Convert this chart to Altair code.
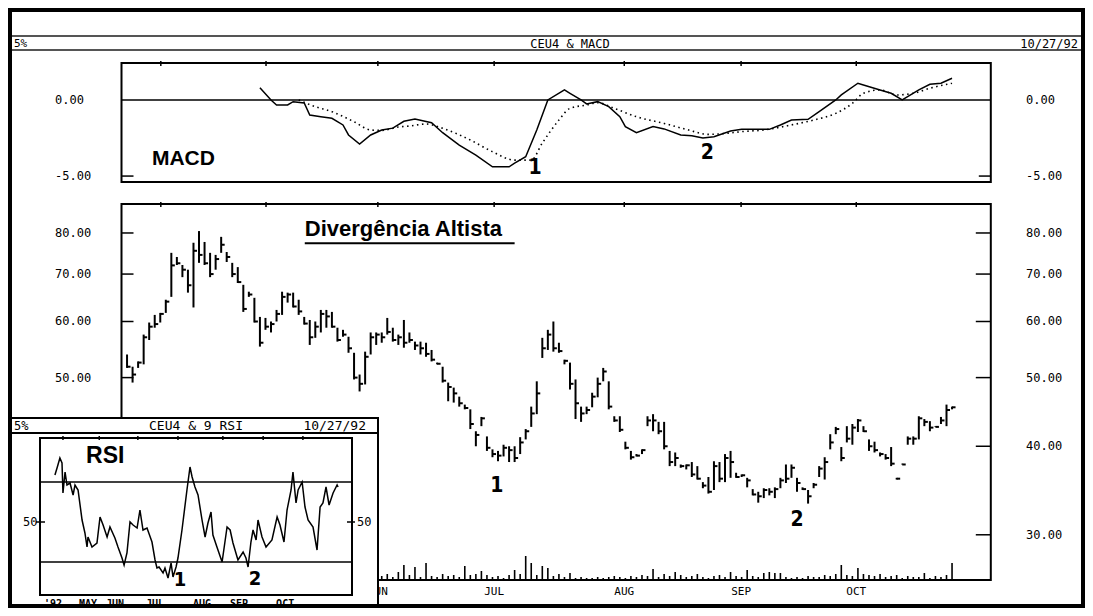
import altair as alt
import pandas as pd

# ---------------- data ----------------
high = [53.9, 51.8, 52.7, 57.5, 59.8, 61.3, 61.7, 64.4, 75.0, 74.0,
        72.1, 71.0, 77.5, 80.5, 77.7, 75.0, 74.5, 79.0, 75.2, 72.6,
        71.6, 67.6, 66.1, 64.8, 60.9, 60.7, 60.0, 62.3, 66.1, 65.9,
        65.9, 64.4, 60.9, 60.3, 60.0, 62.3, 62.3, 61.9, 58.8, 58.4,
        57.1, 54.2, 50.5, 54.4, 57.9, 57.9, 57.9, 60.7, 58.8, 57.5,
        60.3, 57.9, 56.2, 56.2, 56.0, 54.7, 52.5, 51.8, 49.2, 48.4,
        47.0, 45.8, 45.1, 42.0, 44.0, 41.3, 39.6, 39.4, 40.2, 40.0,
        40.0, 41.2, 42.3, 45.5, 49.4, 56.9, 58.4, 60.0, 56.0, 53.0,
        52.5, 49.7, 45.5, 45.5, 47.6, 50.0, 51.6, 49.4, 44.1, 44.1,
        40.6, 39.4, 39.0, 39.6, 44.1, 44.4, 43.3, 43.3, 39.4, 39.2,
        37.7, 37.7, 38.0, 37.5, 35.6, 36.2, 38.1, 38.0, 39.0, 39.4,
        36.7, 36.5, 36.1, 34.8, 34.5, 34.9, 34.9, 35.0, 36.1, 37.7,
        37.7, 36.1, 35.0, 34.7, 35.5, 37.5, 38.6, 41.6, 42.6, 39.9,
        42.7, 43.0, 43.7, 42.7, 40.9, 40.6, 39.2, 39.0, 39.9, 36.1,
        37.8, 41.3, 41.3, 44.1, 43.7, 43.4, 42.7, 44.0, 45.8, 45.5]
low = [51.6, 49.2, 51.6, 52.2, 56.5, 58.8, 59.8, 61.7, 65.0, 72.1,
       69.3, 65.9, 62.8, 72.6, 72.1, 69.3, 71.0, 75.0, 72.8, 69.3,
       68.0, 61.9, 65.0, 59.8, 55.3, 58.4, 57.9, 60.0, 61.3, 63.8,
       62.8, 61.3, 59.4, 55.6, 56.9, 57.9, 58.8, 58.8, 56.2, 57.1,
       54.2, 49.7, 47.8, 48.9, 53.9, 55.6, 56.0, 57.5, 56.2, 55.6,
       55.1, 56.0, 54.7, 53.9, 53.5, 52.7, 52.2, 49.2, 46.3, 46.1,
       45.5, 45.1, 42.3, 40.0, 42.7, 39.4, 38.6, 38.1, 38.7, 38.0,
       38.0, 39.0, 40.9, 42.6, 44.4, 53.3, 54.7, 54.4, 54.2, 52.2,
       48.1, 43.7, 43.3, 44.4, 45.4, 46.9, 49.4, 45.1, 43.3, 41.9,
       39.6, 38.3, 38.7, 39.0, 42.7, 42.0, 41.6, 39.6, 37.5, 37.5,
       37.3, 37.1, 36.2, 35.9, 34.9, 34.3, 34.7, 35.6, 35.6, 36.1,
       36.1, 36.2, 35.0, 34.1, 33.3, 33.8, 34.1, 33.8, 34.9, 35.5,
       36.1, 34.5, 34.7, 33.2, 34.9, 36.2, 35.9, 39.6, 41.6, 38.1,
       40.5, 40.2, 41.9, 41.9, 39.4, 39.2, 38.7, 38.3, 37.5, 35.9,
       37.7, 40.2, 40.2, 40.9, 42.7, 42.0, 42.6, 43.0, 42.7, 45.1]
close = [51.8, 50.5, 52.5, 57.0, 59.0, 59.5, 61.5, 64.0, 72.0, 72.5,
         71.0, 67.5, 75.5, 74.5, 72.5, 70.0, 73.5, 77.0, 74.0, 70.0,
         68.2, 62.5, 65.5, 60.0, 56.0, 59.0, 59.5, 61.5, 65.0, 65.5,
         63.0, 62.0, 59.6, 57.0, 59.0, 61.5, 61.0, 59.0, 56.5, 57.5,
         55.0, 50.0, 49.0, 53.5, 57.0, 57.5, 57.0, 58.0, 56.5, 57.0,
         56.0, 56.5, 55.5, 55.0, 54.0, 53.0, 52.3, 49.5, 48.5, 47.5,
         46.0, 45.3, 43.0, 41.5, 43.8, 39.8, 39.0, 38.8, 39.8, 39.5,
         38.5, 40.5, 42.0, 44.5, 47.5, 55.0, 57.5, 55.0, 54.5, 52.8,
         49.0, 46.0, 44.5, 45.0, 47.0, 49.0, 51.0, 45.5, 43.5, 42.2,
         39.8, 38.6, 38.8, 39.5, 43.5, 43.5, 42.0, 40.0, 38.0, 38.5,
         37.5, 37.6, 36.5, 36.0, 35.2, 34.5, 37.5, 36.0, 38.5, 38.0,
         36.2, 36.4, 35.8, 34.2, 34.0, 34.7, 34.5, 34.8, 35.8, 36.0,
         37.3, 35.5, 34.8, 34.0, 35.3, 37.2, 38.0, 40.5, 42.3, 38.5,
         41.0, 42.5, 43.5, 42.0, 40.0, 39.5, 39.0, 38.5, 37.8, 36.0,
         37.7, 41.0, 41.0, 43.8, 43.3, 42.5, 42.6, 43.5, 45.0, 45.4]
volume = [8, 6, 10, 5, 7, 12, 6, 9, 14, 8, 6, 11, 15, 9, 7, 10, 6, 8, 12, 7,
          9, 5, 11, 8, 6, 10, 7, 5, 9, 6, 8, 12, 7, 6, 5, 9, 11, 6, 8, 7,
          10, 13, 9, 6, 8, 5,
          4, 6, 3, 8, 15, 5, 13, 3, 17, 4, 3, 6, 4, 5,
          3, 14, 5, 6, 9, 5, 3, 4, 2, 5, 10, 6, 24, 17, 5,
          14, 12, 4, 6, 3, 7, 2, 3, 2, 2, 3, 2, 3, 4, 3,
          2, 4, 3, 5, 4, 11, 3, 6, 4, 8, 5, 3, 4, 6, 3,
          2, 4, 5, 3, 8, 4, 3, 10, 4, 3, 7, 8, 7, 7, 3,
          2, 3, 2, 4, 3, 3, 5, 4, 6, 15, 5, 4, 12, 6, 5,
          4, 6, 3, 4, 5, 2, 4, 3, 3, 7, 2, 4, 3, 5, 17]

macd_idx = [25, 27, 28, 30, 31, 33, 34, 36, 38, 40, 41, 43, 45, 47, 49, 51, 53, 56, 58, 61,
            64, 67, 70, 71, 73, 75, 77, 80, 81, 83, 84, 86, 88, 90, 91, 93, 96, 98, 101, 103,
            105, 107, 110, 112, 117, 119, 121, 124, 126, 129, 130, 133, 134, 137, 139, 141, 144, 146, 148, 150]
macd_val = [0.81, 0.0, -0.33, -0.33, -0.11, -0.2, -0.99, -1.1, -1.2, -1.64, -2.3, -2.9, -2.3, -1.97, -1.85, -1.4, -1.25, -1.49, -2.15, -2.96,
            -3.62, -4.39, -4.39, -4.15, -3.73, -1.97, 0.0, 0.66, 0.44, 0.0, -0.26, -0.11, -0.44, -1.1, -1.75, -2.15, -1.75, -1.9, -2.3, -2.35,
            -2.5, -2.41, -2.04, -1.93, -1.93, -1.64, -1.32, -1.27, -0.77, 0.0, 0.33, 1.1, 0.99, 0.66, 0.44, 0.0, 0.66, 1.03, 1.1, 1.43]
signal_idx = [32, 35, 38, 42, 45, 47, 50, 52, 55, 58, 63, 67, 71, 74, 76, 79, 81, 84, 86, 89,
              93, 98, 102, 106, 109, 112, 116, 121, 125, 129, 132, 134, 137, 140, 143, 146, 150]
signal_val = [0.0, -0.44, -0.77, -1.43, -1.97, -2.0, -1.78, -1.71, -1.58, -1.86, -2.63, -3.4, -3.95, -3.95, -2.83, -1.32, -0.55, -0.33, -0.18, -0.55,
              -1.1, -1.54, -1.93, -2.26, -2.2, -2.08, -1.97, -1.64, -1.32, -0.88, -0.22, 0.44, 0.66, 0.33, 0.44, 0.77, 1.1]

rsi_idx = [2.9, 4.0, 5.5, 6.6, 7.1, 8.2, 9.2, 10.8, 12.4, 13.4,
           15.0, 17.1, 18.6, 19.7, 20.2, 22.3, 24.9, 26.5, 28.1, 30.2,
           31.7, 34.3, 35.9, 38.0, 39.1, 40.6, 42.2, 43.8, 45.9, 47.4,
           49.0, 51.1, 53.7, 55.3, 56.3, 57.4, 59.5, 60.5, 62.1, 63.7,
           64.7, 66.3, 67.3, 69.4, 72.0, 73.6, 74.7, 76.2, 77.8, 79.9,
           81.5, 83.0, 84.6, 85.6, 87.7, 90.4, 93.0, 94.6, 96.1, 98.7,
           101.4, 102.9, 104.0, 105.5, 106.6, 108.2, 109.2, 111.3, 113.4, 116.5,
           119.2, 120.7, 122.8, 124.4, 126.5, 127.5, 129.1, 130.2, 132.3, 133.8,
           135.4, 138.0, 140.1, 141.7, 143.2, 144.8, 146.4, 148.5, 150.6, 151.1]
rsi_val = [73.5, 77, 82, 79.5, 64.5, 75, 68.5, 69.5, 63.5, 68.5,
           66, 51, 44.5, 37.5, 42.5, 37.5, 39.5, 52.5, 48.5, 42.5,
           47.5, 42, 37.5, 32, 28.5, 34.5, 50, 48.5, 47, 56,
           46, 47, 40, 31, 27, 27.5, 24.5, 27, 22, 29.5,
           22.5, 27.5, 32, 46, 66, 77.5, 72.5, 67.5, 63.5, 51,
           42.5, 49.5, 55, 43.5, 37.5, 30, 47.5, 46, 39.5, 31,
           35, 32, 27.5, 40, 46, 41, 51, 42.5, 37.5, 41,
           52.5, 48.5, 40, 56, 66, 75, 59.5, 66, 70, 57.5,
           51, 47.5, 36, 57.5, 59.5, 67.5, 58.5, 64.5, 68.5, 67.5]

month_idx = [7.1, 26.1, 46.3, 67.3, 90.8, 111.9, 132.7]
month_labels = ["APR", "MAY", "JUN", "JUL", "AUG", "SEP", "OCT"]
rsi_month_idx = [1.9, 20.2, 34.3, 55.3, 79.9, 99.3, 123.4]
rsi_month_labels = ["'92", "MAY", "JUN", "JUL", "AUG", "SEP", "OCT"]
price_ticks = [30, 40, 50, 60, 70, 80]
price_tick_labels = ["30.00", "40.00", "50.00", "60.00", "70.00", "80.00"]
macd_ticks = [0, -5]
macd_tick_labels = ["0.00", "-5.00"]
rsi_levels = [30, 70]
rsi_label_vals = [50]
rsi_label_text = ["50"]

# ---------------- layout (scale domains / pixel ranges) ----------------
W, H = 1077, 600
XD, XR = [0, 157], [113.5, 982.8]
MD, MR = [-5.39, 2.43], [174, 55]
PD, PR = [25.9, 87.9], [572, 196]
VD, VR = [0, 30], [572, 542]
RXD, RXR = [-4.92, 158.4], [32, 344]
RYD, RYR = [13.5, 92], [587, 430]

MONO = "DejaVu Sans Mono"
BOLD = "Liberation Sans"
NARROW = "DejaVu Sans Condensed"


def sx(field, dom=XD, rng=XR):
    return alt.X(field, type="quantitative",
                 scale=alt.Scale(domain=dom, range=rng, zero=False, nice=False), axis=None)


def sy(field, dom, rng, log=False):
    if log:
        sc = alt.Scale(type="log", domain=dom, range=rng, nice=False)
    else:
        sc = alt.Scale(domain=dom, range=rng, zero=False, nice=False)
    return alt.Y(field, type="quantitative", scale=sc, axis=None)


one = pd.DataFrame({"a": [0]})
layers = []

# ---------- main header ----------
for yy in (28, 42):
    layers.append(alt.Chart(one).mark_rule(color="#555555", strokeWidth=2).encode(
        x=alt.value(0), x2=alt.value(W), y=alt.value(yy)))
layers.append(alt.Chart(pd.DataFrame({"t": ["5%"]})).mark_text(
    font=MONO, fontSize=11, align="left", baseline="middle").encode(
    text="t", x=alt.value(6), y=alt.value(35.5)))
layers.append(alt.Chart(pd.DataFrame({"t": ["CEU4 & MACD"]})).mark_text(
    font=MONO, fontSize=12, align="center", baseline="middle").encode(
    text="t", x=alt.value(562), y=alt.value(35.5)))
layers.append(alt.Chart(pd.DataFrame({"t": ["10/27/92"]})).mark_text(
    font=MONO, fontSize=12, align="right", baseline="middle").encode(
    text="t", x=alt.value(1070), y=alt.value(35.5)))

# ---------- MACD panel ----------
macd_box = pd.DataFrame({"x0": [XD[0]], "x1": [XD[1]], "y0": [MD[0]], "y1": [MD[1]]})
layers.append(alt.Chart(macd_box).mark_rect(fillOpacity=0, stroke="black", strokeWidth=2).encode(
    x=sx("x0"), x2="x1", y=sy("y0", MD, MR), y2="y1"))
zero = pd.DataFrame({"x0": [XD[0]], "x1": [XD[1]], "v": [0.0]})
layers.append(alt.Chart(zero).mark_rule(color="black", strokeWidth=1.5).encode(
    x=sx("x0"), x2="x1", y=sy("v", MD, MR)))
mt = pd.DataFrame({"i": month_idx, "top": [MD[1]] * len(month_idx)})
layers.append(alt.Chart(mt).mark_rule(color="black", strokeWidth=1.5, yOffset=-2, y2Offset=3).encode(
    x=sx("i"), y=sy("top", MD, MR), y2="top"))
m5 = pd.DataFrame({"lo": [XD[0]], "hi": [XD[1]], "v": [-5.0]})
layers.append(alt.Chart(m5).mark_rule(color="black", strokeWidth=1.5, x2Offset=12).encode(
    x=sx("lo"), x2="lo", y=sy("v", MD, MR)))
layers.append(alt.Chart(m5).mark_rule(color="black", strokeWidth=1.5, xOffset=-12).encode(
    x=sx("hi"), x2="hi", y=sy("v", MD, MR)))
ml = pd.DataFrame({"v": macd_ticks, "t": macd_tick_labels})
layers.append(alt.Chart(ml).mark_text(font=MONO, fontSize=12, align="left", baseline="middle").encode(
    y=sy("v", MD, MR), text="t", x=alt.value(47)))
layers.append(alt.Chart(ml).mark_text(font=MONO, fontSize=12, align="left", baseline="middle").encode(
    y=sy("v", MD, MR), text="t", x=alt.value(1018)))
mdf = pd.DataFrame({"i": macd_idx, "v": macd_val})
layers.append(alt.Chart(mdf).mark_line(color="black", strokeWidth=1.5).encode(
    x=sx("i"), y=sy("v", MD, MR)))
sdf = pd.DataFrame({"i": signal_idx, "v": signal_val})
layers.append(alt.Chart(sdf).mark_line(color="black", strokeWidth=1.6, strokeDash=[1.5, 3.5], interpolate="monotone").encode(
    x=sx("i"), y=sy("v", MD, MR)))
layers.append(alt.Chart(pd.DataFrame({"i": [5.5], "v": [-3.88], "t": ["MACD"]})).mark_text(
    font=BOLD, fontWeight="bold", fontSize=21, align="left", baseline="middle").encode(
    x=sx("i"), y=sy("v", MD, MR), text="t"))
layers.append(alt.Chart(pd.DataFrame({"i": [74.7, 105.8], "v": [-4.47, -3.49], "t": ["1", "2"]})).mark_text(
    font=NARROW, fontWeight="bold", fontSize=21, align="center", baseline="middle").encode(
    x=sx("i"), y=sy("v", MD, MR), text="t"))

# ---------- price panel ----------
pbox = pd.DataFrame({"x0": [XD[0]], "x1": [XD[1]], "y0": [PD[0]], "y1": [PD[1]]})
layers.append(alt.Chart(pbox).mark_rect(fillOpacity=0, stroke="black", strokeWidth=2).encode(
    x=sx("x0"), x2="x1", y=sy("y0", PD, PR, True), y2="y1"))
pt = pd.DataFrame({"i": month_idx, "top": [PD[1]] * len(month_idx)})
layers.append(alt.Chart(pt).mark_rule(color="black", strokeWidth=1.5, yOffset=-2, y2Offset=3).encode(
    x=sx("i"), y=sy("top", PD, PR, True), y2="top"))
ptk = pd.DataFrame({"v": price_ticks, "t": price_tick_labels,
                    "lo": [XD[0]] * len(price_ticks), "hi": [XD[1]] * len(price_ticks)})
layers.append(alt.Chart(ptk).mark_rule(color="black", strokeWidth=1.5, x2Offset=12).encode(
    x=sx("lo"), x2="lo", y=sy("v", PD, PR, True)))
layers.append(alt.Chart(ptk).mark_rule(color="black", strokeWidth=1.5, xOffset=-15).encode(
    x=sx("hi"), x2="hi", y=sy("v", PD, PR, True)))
layers.append(alt.Chart(ptk).mark_text(font=MONO, fontSize=12, align="left", baseline="middle").encode(
    y=sy("v", PD, PR, True), text="t", x=alt.value(47)))
layers.append(alt.Chart(ptk).mark_text(font=MONO, fontSize=12, align="left", baseline="middle").encode(
    y=sy("v", PD, PR, True), text="t", x=alt.value(1018)))

df = pd.DataFrame({"i": list(range(1, len(high) + 1)), "high": high, "low": low,
                   "close": close, "vol": volume, "base": [0] * len(high)})
layers.append(alt.Chart(df).mark_rule(color="black", strokeWidth=2).encode(
    x=sx("i"), y=sy("low", PD, PR, True), y2="high"))
layers.append(alt.Chart(df).mark_rule(color="black", strokeWidth=2, x2Offset=3.5).encode(
    x=sx("i"), x2="i", y=sy("close", PD, PR, True)))
layers.append(alt.Chart(df).mark_rule(color="black", strokeWidth=1.6).encode(
    x=sx("i"), y=sy("base", VD, VR), y2="vol"))
mlab = pd.DataFrame({"i": month_idx, "t": month_labels})
layers.append(alt.Chart(mlab).mark_text(font=MONO, fontSize=11, align="center", baseline="middle").encode(
    x=sx("i"), text="t", y=alt.value(584)))
layers.append(alt.Chart(pd.DataFrame({"i": [33.1], "v": [81.0], "t": ["Divergência Altista"]})).mark_text(
    font=BOLD, fontWeight="bold", fontSize=22, align="left", baseline="middle").encode(
    x=sx("i"), y=sy("v", PD, PR, True), text="t"))
layers.append(alt.Chart(pd.DataFrame({"a": [33.1], "b": [71.0], "v": [77.4]})).mark_rule(
    color="black", strokeWidth=2).encode(x=sx("a"), x2="b", y=sy("v", PD, PR, True)))
layers.append(alt.Chart(pd.DataFrame({"i": [67.8, 122.0], "v": [35.1, 31.5], "t": ["1", "2"]})).mark_text(
    font=NARROW, fontWeight="bold", fontSize=21, align="center", baseline="middle").encode(
    x=sx("i"), y=sy("v", PD, PR, True), text="t"))

# ---------- RSI inset ----------
layers.append(alt.Chart(one).mark_rect(fill="white", stroke="black", strokeWidth=2).encode(
    x=alt.value(0), x2=alt.value(370), y=alt.value(410), y2=alt.value(600)))
layers.append(alt.Chart(one).mark_rule(color="black", strokeWidth=2).encode(
    x=alt.value(0), x2=alt.value(370), y=alt.value(425)))
layers.append(alt.Chart(pd.DataFrame({"t": ["5%"]})).mark_text(
    font=MONO, fontSize=12, align="left", baseline="middle").encode(
    text="t", x=alt.value(6), y=alt.value(418)))
layers.append(alt.Chart(pd.DataFrame({"t": ["CEU4 & 9 RSI"]})).mark_text(
    font=MONO, fontSize=13, align="center", baseline="middle").encode(
    text="t", x=alt.value(188), y=alt.value(418)))
layers.append(alt.Chart(pd.DataFrame({"t": ["10/27/92"]})).mark_text(
    font=MONO, fontSize=13, align="right", baseline="middle").encode(
    text="t", x=alt.value(358), y=alt.value(418)))
rbox = pd.DataFrame({"x0": [RXD[0]], "x1": [RXD[1]], "y0": [RYD[0]], "y1": [RYD[1]]})
layers.append(alt.Chart(rbox).mark_rect(fillOpacity=0, stroke="black", strokeWidth=2).encode(
    x=sx("x0", RXD, RXR), x2="x1", y=sy("y0", RYD, RYR), y2="y1"))
rl = pd.DataFrame({"v": rsi_levels, "x0": [RXD[0]] * 2, "x1": [RXD[1]] * 2})
layers.append(alt.Chart(rl).mark_rule(color="black", strokeWidth=1.5).encode(
    x=sx("x0", RXD, RXR), x2="x1", y=sy("v", RYD, RYR)))
rt = pd.DataFrame({"i": month_idx, "top": [RYD[1]] * len(month_idx)})
layers.append(alt.Chart(rt).mark_rule(color="black", strokeWidth=1.5, yOffset=-2, y2Offset=2).encode(
    x=sx("i", RXD, RXR), y=sy("top", RYD, RYR), y2="top"))
r50 = pd.DataFrame({"v": rsi_label_vals, "t": rsi_label_text, "lo": [RXD[0]], "hi": [RXD[1]]})
layers.append(alt.Chart(r50).mark_rule(color="black", strokeWidth=1.5, xOffset=-4, x2Offset=5).encode(
    x=sx("lo", RXD, RXR), x2="lo", y=sy("v", RYD, RYR)))
layers.append(alt.Chart(r50).mark_rule(color="black", strokeWidth=1.5, xOffset=-5, x2Offset=3).encode(
    x=sx("hi", RXD, RXR), x2="hi", y=sy("v", RYD, RYR)))
layers.append(alt.Chart(r50).mark_text(font=MONO, fontSize=12, align="left", baseline="middle").encode(
    y=sy("v", RYD, RYR), text="t", x=alt.value(15)))
layers.append(alt.Chart(r50).mark_text(font=MONO, fontSize=12, align="left", baseline="middle").encode(
    y=sy("v", RYD, RYR), text="t", x=alt.value(349)))
rdf = pd.DataFrame({"i": rsi_idx, "v": rsi_val})
layers.append(alt.Chart(rdf).mark_line(color="black", strokeWidth=1.5).encode(
    x=sx("i", RXD, RXR), y=sy("v", RYD, RYR)))
rml = pd.DataFrame({"i": rsi_month_idx, "t": rsi_month_labels})
layers.append(alt.Chart(rml).mark_text(font=MONO, fontSize=10, fontWeight="bold", align="center", baseline="middle").encode(
    x=sx("i", RXD, RXR), text="t", y=alt.value(596)))
layers.append(alt.Chart(pd.DataFrame({"i": [19.2], "v": [83.0], "t": ["RSI"]})).mark_text(
    font=BOLD, fontWeight="bold", fontSize=23, align="left", baseline="middle").encode(
    x=sx("i", RXD, RXR), y=sy("v", RYD, RYR), text="t"))
layers.append(alt.Chart(pd.DataFrame({"i": [68.4, 107.6], "v": [21.0, 21.5], "t": ["1", "2"]})).mark_text(
    font=NARROW, fontWeight="bold", fontSize=20, align="center", baseline="middle").encode(
    x=sx("i", RXD, RXR), y=sy("v", RYD, RYR), text="t"))

# ---------- outer frame ----------
layers.append(alt.Chart(one).mark_rect(fillOpacity=0, stroke="black", strokeWidth=4).encode(
    x=alt.value(2), x2=alt.value(W - 2), y=alt.value(2), y2=alt.value(H - 2)))

chart = alt.layer(*layers).resolve_scale(x="independent", y="independent").properties(
    width=W, height=H, autosize=alt.AutoSizeParams(type="none"), padding=0
).configure_view(stroke=None)

chart.save("out.html", embed_options={"renderer": "svg", "actions": False})
